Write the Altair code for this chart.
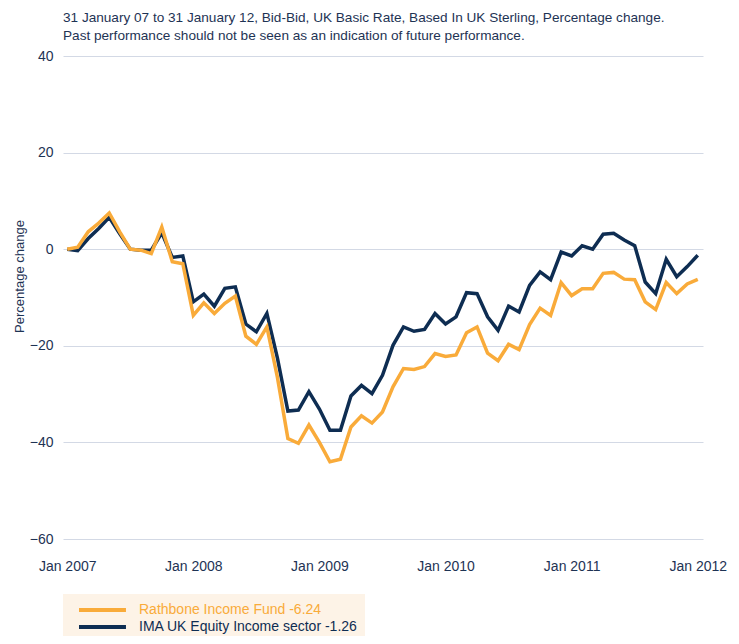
import altair as alt
import pandas as pd

# ---- data (monthly, Jan 2007 .. Jan 2012) ----
rathbone = [0, 0.4, 3.6, 5.4, 7.5, 3.6, 0, -0.2, -0.9, 4.6, -2.6, -3.0,
            -13.7, -11.1, -13.3, -11.2, -9.7, -18.0, -19.7, -16.1, -26.5, -39.2, -40.2, -36.4,
            -40.0, -44.0, -43.5, -36.8, -34.5, -36.0, -33.7, -28.5, -24.7, -24.9, -24.3, -21.6,
            -22.2, -21.9, -17.3, -16.1, -21.5, -23.1, -19.7, -20.8, -15.6, -12.2, -13.7, -6.9,
            -9.6, -8.2, -8.2, -5.0, -4.8, -6.2, -6.3, -10.9, -12.5, -6.9, -9.2, -7.2,
            -6.24]
ima = [0, -0.3, 2.2, 4.3, 6.6, 3.2, 0, -0.2, -0.2, 3.4, -1.7, -1.4,
       -10.9, -9.3, -11.8, -8.1, -7.8, -15.5, -17.1, -13.3, -22.5, -33.5, -33.3, -29.5,
       -33.1, -37.5, -37.5, -30.4, -28.2, -29.9, -26.1, -19.9, -16.1, -17.0, -16.6, -13.3,
       -15.5, -14.0, -9.0, -9.2, -14.0, -16.8, -11.8, -13.0, -7.5, -4.7, -6.3, -0.6,
       -1.4, 0.7, 0.0, 3.1, 3.3, 1.9, 0.75, -6.8, -9.2, -2.1, -5.7, -3.6,
       -1.26]
tick_labels = ["Jan 2007", "Jan 2008", "Jan 2009", "Jan 2010", "Jan 2011", "Jan 2012"]
tick_months = [0, 12, 24, 36, 48, 60]
y_ticks = [-60, -40, -20, 0, 20, 40]
series_names = ["Rathbone Income Fund -6.24", "IMA UK Equity Income sector -1.26"]
series_colors = ["#F9AB3A", "#0E2D52"]
title_lines = [
    "31 January 07 to 31 January 12, Bid-Bid, UK Basic Rate, Based In UK Sterling, Percentage change.",
    "Past performance should not be seen as an indication of future performance.",
]

text_color = "#1E3354"
grid_color = "#D3D9E5"
font = "Liberation Sans"

rows = []
for name, vals in [(series_names[1], ima), (series_names[0], rathbone)]:
    for i, v in enumerate(vals):
        rows.append({"month": i, "value": v, "series": name})
df = pd.DataFrame(rows)

label_arr = "[" + ",".join("'" + t + "'" for t in tick_labels) + "]"

color_expr = "datum.value == '%s' ? '%s' : '%s'" % (series_names[0], series_colors[0], series_colors[1])

chart = alt.Chart(df).mark_line(strokeWidth=3.5).encode(
    x=alt.X("month:Q",
            scale=alt.Scale(domain=[-0.4, 60.5], nice=False, zero=False),
            axis=alt.Axis(values=tick_months, labelExpr=label_arr + "[round(datum.value/12)]",
                          grid=False, domain=False, ticks=False, labelPadding=20,
                          labelFontSize=14, labelColor=text_color, labelFont=font, title=None)),
    y=alt.Y("value:Q",
            scale=alt.Scale(domain=[-60, 40], nice=False, zero=False),
            axis=alt.Axis(values=y_ticks, grid=True, gridColor=grid_color, gridWidth=1,
                          domain=False, ticks=False, labelPadding=10,
                          labelFontSize=14, labelColor=text_color, labelFont=font,
                          title="Percentage change", titleFontSize=13, titleFontWeight="normal",
                          titleColor=text_color, titleFont=font,
                          titleX=-44, titleY=220, titleAngle=270, titleAlign="center",
                          titleBaseline="middle")),
    color=alt.Color("series:N",
                    scale=alt.Scale(domain=series_names, range=series_colors),
                    legend=alt.Legend(title=None, orient="none", legendX=0, legendY=538,
                                      fillColor="#FDF3E7", padding=7,
                                      symbolType="M0,0H6.71", symbolSize=196, symbolStrokeWidth=4,
                                      labelFontSize=14, labelFont=font, labelOffset=51,
                                      labelColor={"expr": color_expr},
                                      rowPadding=0, labelLimit=400)),
).properties(
    width=640,
    height=483,
    padding={"left": 55, "top": 48, "right": 28, "bottom": 97},
    autosize=alt.AutoSizeParams(type="none"),
    title=alt.TitleParams(text=title_lines, anchor="start", frame="group", fontSize=13.6,
                          fontWeight="normal", color=text_color, font=font,
                          lineHeight=18, offset=6),
).configure_view(stroke=None)

chart.save("out.html", embed_options={"renderer": "svg", "actions": False})
